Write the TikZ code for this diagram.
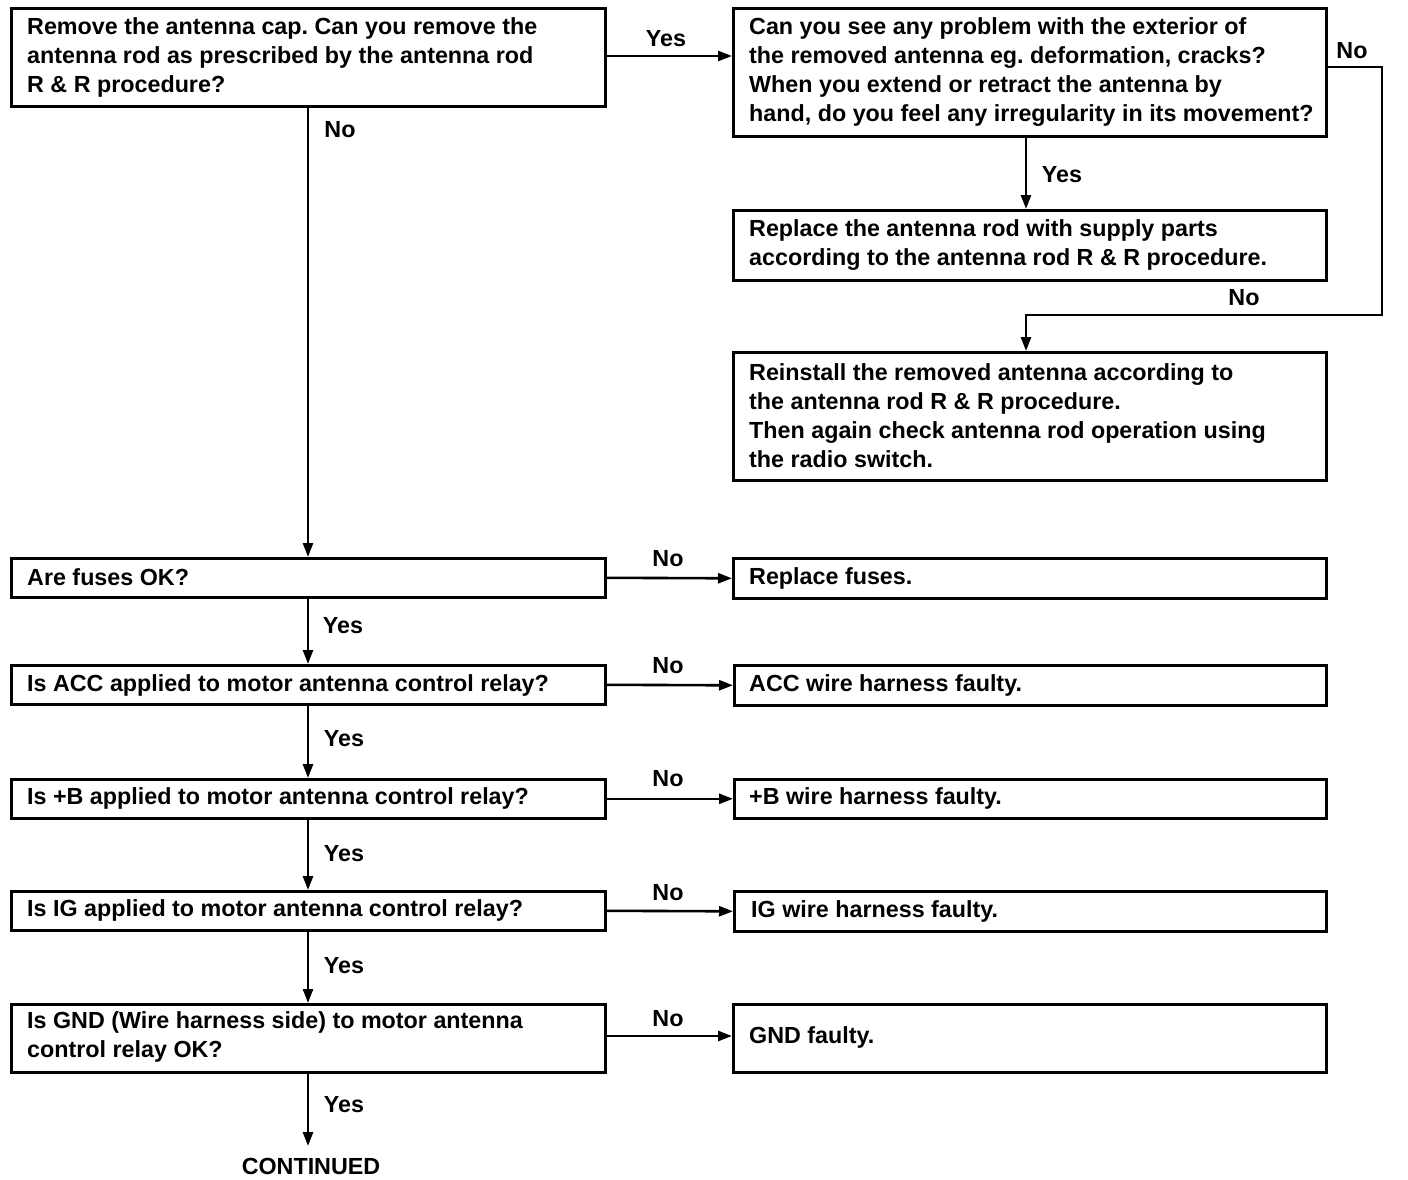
\documentclass[tikz,border=0pt]{standalone}
\usepackage{fontspec}
\setmainfont{Liberation Sans}
\usetikzlibrary{arrows.meta}
\begin{document}
\frenchspacing
\begin{tikzpicture}[x=1pt,y=-1pt,
  every node/.style={font=\fontsize{23.3}{29}\selectfont\bfseries},
  box/.style={draw,line width=2.6pt,inner sep=0pt,anchor=north west},
  txt/.style={inner sep=0pt,align=left,anchor=west},
  arr/.style={line width=2.6pt,-{Triangle[length=14pt,width=10pt]}},
  lbl/.style={inner sep=0pt}]
\useasboundingbox (0,0) rectangle (1408,1180);
% left column
\node[box,minimum width=594pt,minimum height=98pt] (q1) at (10,7) {};
\node[txt] (q1t) at (27,57) {Remove the antenna cap. Can you remove the\\antenna rod as prescribed by the antenna rod\\R \& R procedure?};
\node[box,minimum width=594pt,minimum height=39pt] (q2) at (10,557) {};
\node[txt] (q2t) at (27,577) {Are fuses OK?};
\node[box,minimum width=594pt,minimum height=39pt] (q3) at (10,664) {};
\node[txt] (q3t) at (27,685) {Is ACC applied to motor antenna control relay?};
\node[box,minimum width=594pt,minimum height=39pt] (q4) at (10,778) {};
\node[txt] (q4t) at (27,798) {Is +B applied to motor antenna control relay?};
\node[box,minimum width=594pt,minimum height=39pt] (q5) at (10,890) {};
\node[txt] (q5t) at (27,910) {Is IG applied to motor antenna control relay?};
\node[box,minimum width=594pt,minimum height=68pt] (q6) at (10,1003) {};
\node[txt] (q6t) at (27,1037) {Is GND (Wire harness side) to motor antenna\\control relay OK?};
% right column
\node[box,minimum width=593pt,minimum height=128pt] (r1) at (732,7) {};
\node[txt] (r1t) at (749,72) {Can you see any problem with the exterior of\\the removed antenna eg. deformation, cracks?\\When you extend or retract the antenna by\\hand, do you feel any irregularity in its movement?};
\node[box,minimum width=593pt,minimum height=70pt] (r2) at (732,209) {};
\node[txt] (r2t) at (749,245) {Replace the antenna rod with supply parts\\according to the antenna rod R \& R procedure.};
\node[box,minimum width=593pt,minimum height=128pt] (r3) at (732,351) {};
\node[txt] (r3t) at (749,416) {Reinstall the removed antenna according to\\the antenna rod R \& R procedure.\\Then again check antenna rod operation using\\the radio switch.};
\node[box,minimum width=593pt,minimum height=40pt] (f2) at (732,557) {};
\node[txt] (f2t) at (749,578) {Replace fuses.};
\node[box,minimum width=592pt,minimum height=40pt] (f3) at (733,664) {};
\node[txt] (f3t) at (749,685) {ACC wire harness faulty.};
\node[box,minimum width=592pt,minimum height=39pt] (f4) at (733,778) {};
\node[txt] (f4t) at (749,798) {+B wire harness faulty.};
\node[box,minimum width=592pt,minimum height=40pt] (f5) at (733,890) {};
\node[txt] (f5t) at (751,911) {IG wire harness faulty.};
\node[box,minimum width=593pt,minimum height=68pt] (f6) at (732,1003) {};
\node[txt] (f6t) at (749,1037) {GND faulty.};
\node[lbl] (cont) at (311,1166) {CONTINUED};
\coordinate (c1) at (1382,315);
\coordinate (c2) at (1026,315);
\coordinate (c3) at (308,1146);
% connectors
\draw[arr] (q1.east |- 0,56) -- (r1.west |- 0,56);
\draw[arr] (q1.south -| 308,0) -- (q2.north -| 308,0);
\draw[arr] (r1.south -| 1026,0) -- (r2.north -| 1026,0);
\draw[arr] (r1.east |- 0,67) -- (c1 |- 0,67) -- (c1) -- (c2) -- (r3.north -| c2);
\draw[arr] (q2.east) -- (f2.west);
\draw[arr] (q3.east) -- (f3.west);
\draw[arr] (q4.east) -- (f4.west);
\draw[arr] (q5.east) -- (f5.west);
\draw[arr] (q6.east |- 0,1036) -- (f6.west |- 0,1036);
\draw[arr] (q2.south -| 308,0) -- (q3.north -| 308,0);
\draw[arr] (q3.south -| 308,0) -- (q4.north -| 308,0);
\draw[arr] (q4.south -| 308,0) -- (q5.north -| 308,0);
\draw[arr] (q5.south -| 308,0) -- (q6.north -| 308,0);
\draw[arr] (q6.south -| 308,0) -- (c3);
% labels
\node[lbl] (l1) at (666,39) {Yes};
\node[lbl] (l2) at (340,130) {No};
\node[lbl] (l3) at (1062,175) {Yes};
\node[lbl] (l4) at (1352,51) {No};
\node[lbl] (l5) at (1244,298) {No};
\node[lbl] (l6) at (668,559) {No};
\node[lbl] (l7) at (343,626) {Yes};
\node[lbl] (l8) at (668,666) {No};
\node[lbl] (l9) at (344,739) {Yes};
\node[lbl] (l10) at (668,779) {No};
\node[lbl] (l11) at (344,854) {Yes};
\node[lbl] (l12) at (668,893) {No};
\node[lbl] (l13) at (344,966) {Yes};
\node[lbl] (l14) at (668,1019) {No};
\node[lbl] (l15) at (344,1105) {Yes};
\end{tikzpicture}
\end{document}
